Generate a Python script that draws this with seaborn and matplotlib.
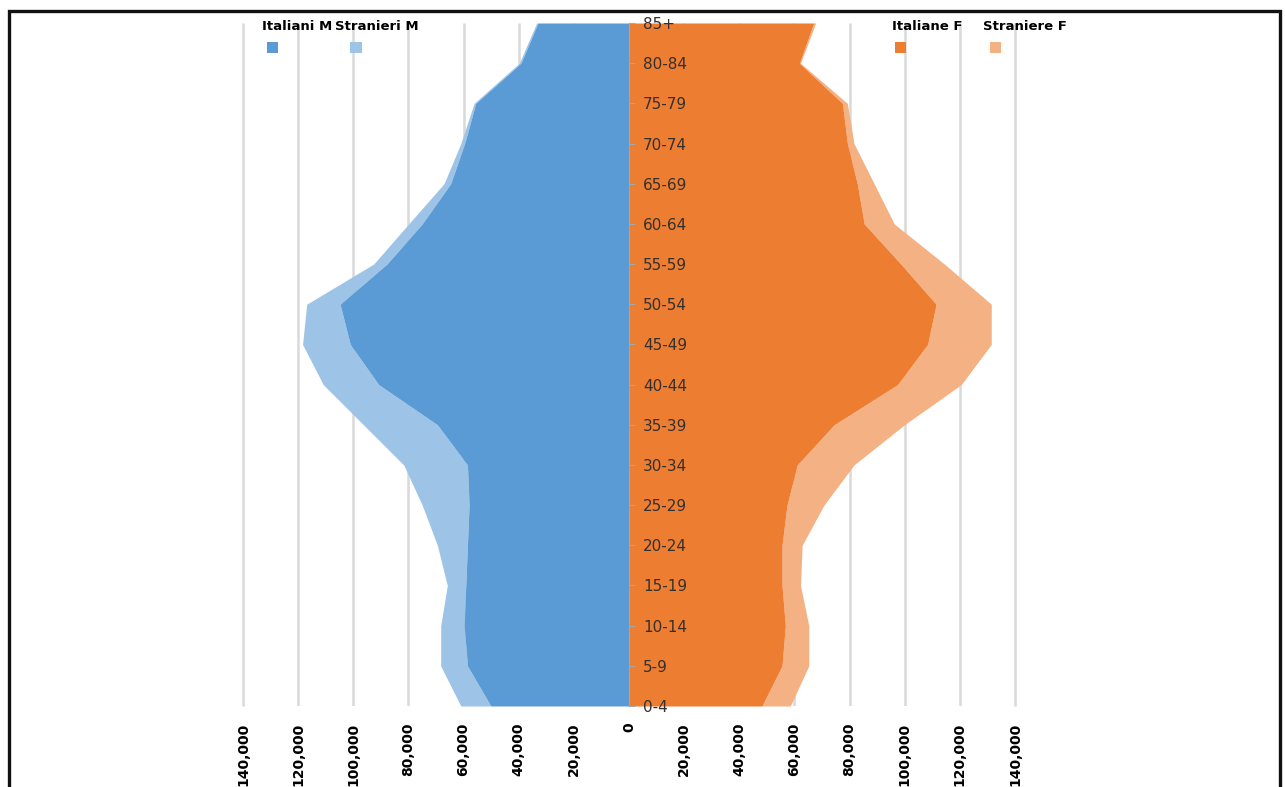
import matplotlib
matplotlib.use("Agg")
import matplotlib.pyplot as plt
from matplotlib.patches import Rectangle
import seaborn as sns

# Age classes, bottom to top
age_groups = ["0-4", "5-9", "10-14", "15-19", "20-24", "25-29", "30-34", "35-39",
              "40-44", "45-49", "50-54", "55-59", "60-64", "65-69", "70-74",
              "75-79", "80-84", "85+"]

# Resident population by age class
italiani_m = [50100, 58600, 59800, 59200, 58600, 58000, 58600, 69500, 90800,
              101100, 104800, 87800, 75000, 64700, 59600, 55600, 39200, 33000]
stranieri_m = [10900, 9700, 8500, 6700, 10900, 17000, 23100, 26800, 20100,
               17300, 12100, 4800, 4900, 2400, 1400, 600, 600, 500]
italiane_f = [48200, 55500, 56700, 55500, 55500, 57300, 61000, 74400, 97400,
              108300, 111400, 98600, 85300, 82800, 79200, 77400, 61800, 67000]
straniere_f = [10300, 9700, 8500, 6700, 7300, 13400, 20600, 25500, 23100,
               23100, 20000, 15800, 10900, 6100, 2400, 1800, 400, 700]

x_ticks = list(range(-140000, 140001, 20000))
x_tick_labels = [f"{abs(v):,}" for v in x_ticks]

legend_labels = ["Italiani M", "Stranieri M", "Italiane F", "Straniere F"]
colors = ["#5b9bd5", "#9dc3e6", "#ed7d31", "#f4b183"]

sns.set_theme(style="white")
plt.rcParams["font.family"] = ["DejaVu Sans"]

W, H = 1285, 787
fig = plt.figure(figsize=(W / 100, H / 100), dpi=100)
ax = fig.add_axes([243 / W, 1 - 706 / H, (1015 - 243) / W, (706 - 23) / H])
ax.set_axisbelow(False)

y = list(range(len(age_groups)))
tot_m = [a + b for a, b in zip(italiani_m, stranieri_m)]
tot_f = [a + b for a, b in zip(italiane_f, straniere_f)]

# Stacked areas: males to the left, females to the right
ax.fill_betweenx(y, [-v for v in italiani_m], [-v for v in tot_m],
                 color=colors[1], lw=0, zorder=1.0)
ax.fill_betweenx(y, 0, [-v for v in italiani_m], color=colors[0], lw=0, zorder=1.1)
ax.fill_betweenx(y, italiane_f, tot_f, color=colors[3], lw=0, zorder=1.0)
ax.fill_betweenx(y, 0, italiane_f, color=colors[2], lw=0, zorder=1.1)

ax.set_xlim(-140000, 140000)
ax.set_ylim(0, len(age_groups) - 1)

# Vertical gridlines behind the areas; the outermost ones are left unclipped
for xv in x_ticks:
    if xv != 0:
        ax.axvline(xv, color="#d9d9d9", lw=1.8, zorder=0.5,
                   clip_on=abs(xv) != 140000, solid_capstyle="butt")

ax.set_xticks(x_ticks)
ax.set_xticklabels(x_tick_labels, rotation=90, fontsize=10, fontweight="bold",
                   color="black", va="top")
ax.tick_params(axis="x", length=0, pad=12)

# Age axis drawn at the centre line, labels to its right
for s in ["top", "bottom", "left"]:
    ax.spines[s].set_visible(False)
ax.spines["right"].set_position(("data", 0))
ax.spines["right"].set_color("#a6a6a6")
ax.spines["right"].set_linewidth(0.8)
ax.yaxis.tick_right()
ax.set_yticks(y)
ax.set_yticklabels(age_groups, fontsize=11, color="#33302e")
ax.tick_params(axis="y", direction="out", length=4, width=0.8, color="#a6a6a6",
               pad=6, right=True, left=False)
ax.grid(False)

# Legend: labels with square markers beneath
legend_pos = [(262, 272), (335, 356), (892, 900), (983, 995)]
for (tx, mx), lab, c in zip(legend_pos, legend_labels, colors):
    fig.text(tx / W, 1 - 27 / H, lab, fontsize=9.5, fontweight="bold",
             color="black", ha="left", va="center")
    fig.patches.append(Rectangle(((mx - 5.5) / W, 1 - 53 / H), 11 / W, 11 / H,
                                 transform=fig.transFigure, color=c, lw=0))

# Outer frame
fig.patches.append(Rectangle((9 / W, -0.05), (1280 - 9) / W, 1.05 - 11 / H,
                             transform=fig.transFigure, fill=False,
                             edgecolor="#111111", lw=2.4))

fig.savefig("out.png", dpi=100)
